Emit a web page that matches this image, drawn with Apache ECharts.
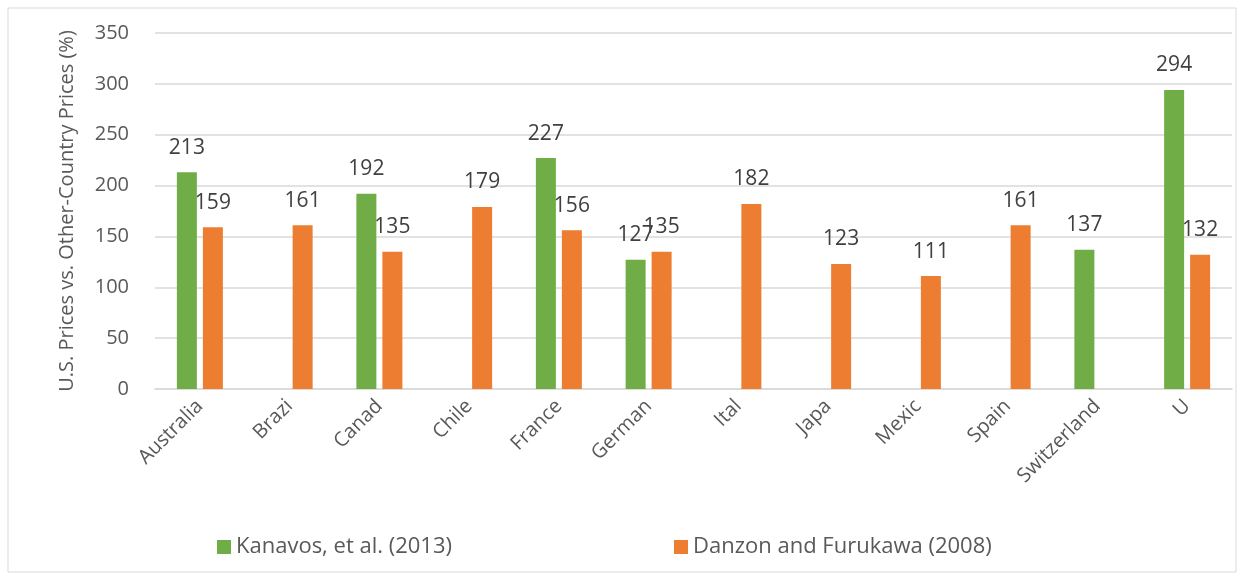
<!DOCTYPE html>
<html>
<head>
<meta charset="utf-8">
<script src="https://cdn.jsdelivr.net/npm/echarts@6/dist/echarts.min.js"></script>
<style>
  html, body { margin: 0; padding: 0; background: #fff; }
  #main { width: 1244px; height: 579px; }
</style>
</head>
<body>
<div id="main"></div>
<script>
// categories as they appear on the axis
var countries = ['Australia', 'Brazi', 'Canad', 'Chile', 'France', 'German', 'Ital', 'Japa', 'Mexic', 'Spain', 'Switzerland', 'U'];
var kanavos = [213, null, 192, null, 227, 127, null, null, null, null, 137, 294];
var danzon = [159, 161, 135, 179, 156, 135, 182, 123, 111, 161, null, 132];
var seriesNames = ['Kanavos, et al. (2013)', 'Danzon and Furukawa (2008)'];

var chart = echarts.init(document.getElementById('main'));
var font = '"Open Sans", sans-serif';

var labelStyle = {
  show: true,
  position: 'top',
  distance: 14,
  fontFamily: font,
  fontSize: 21,
  color: '#404040'
};

var option = {
  animation: false,
  textStyle: { fontFamily: font },
  graphic: [{
    type: 'rect',
    shape: { x: 8, y: 8, width: 1228, height: 564 },
    style: { fill: 'none', stroke: '#d9d9d9', lineWidth: 1 }
  }],
  legend: [{
    data: [seriesNames[0]],
    left: 212,
    top: 531,
    icon: 'rect',
    itemWidth: 14,
    itemHeight: 14,
    textStyle: { fontFamily: font, fontSize: 22, color: '#595959' }
  }, {
    data: [seriesNames[1]],
    left: 669,
    top: 531,
    icon: 'rect',
    itemWidth: 14,
    itemHeight: 14,
    textStyle: { fontFamily: font, fontSize: 22, color: '#595959' }
  }],
  grid: { left: 155, right: 12, top: 33, bottom: 190 },
  xAxis: {
    type: 'category',
    data: countries,
    axisLine: { lineStyle: { color: '#d9d9d9', width: 1.5 } },
    axisTick: { show: false },
    axisLabel: {
      rotate: 45,
      interval: 0,
      margin: 14,
      fontFamily: font,
      fontSize: 20,
      color: '#595959'
    }
  },
  yAxis: {
    type: 'value',
    min: 0,
    max: 350,
    interval: 50,
    name: 'U.S. Prices vs. Other-Country Prices (%)',
    nameLocation: 'middle',
    nameGap: 78,
    nameTextStyle: { fontFamily: font, fontSize: 20, color: '#595959' },
    axisLine: { show: false },
    axisTick: { show: false },
    axisLabel: { margin: 26, fontFamily: font, fontSize: 20, color: '#595959' },
    splitLine: { lineStyle: { color: '#d9d9d9', width: 1.5 } }
  },
  series: [{
    name: seriesNames[0],
    type: 'bar',
    data: kanavos,
    barWidth: 20,
    barGap: '30%',
    itemStyle: { color: '#70ad47' },
    label: labelStyle
  }, {
    name: seriesNames[1],
    type: 'bar',
    data: danzon,
    barWidth: 20,
    itemStyle: { color: '#ed7d31' },
    label: labelStyle
  }]
};

chart.setOption(option);
</script>
</body>
</html>
